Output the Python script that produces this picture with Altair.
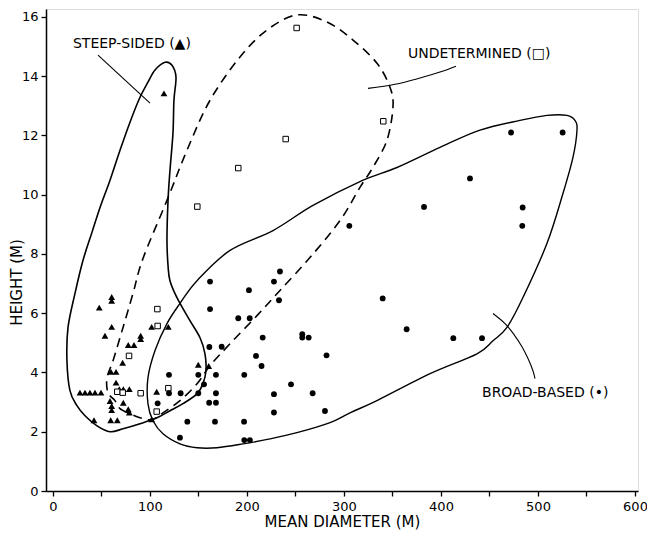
import altair as alt
import pandas as pd

# --- point data (mean diameter m, height m) ---
steep_x = [47.7, 60.5, 60.5, 53.6, 60.5, 77.6, 83.5, 90.4, 90.4, 101.7, 118.9, 71.8, 59.8, 65.0, 65.0,
           27.8, 33.0, 38.1, 43.3, 49.5, 68.4, 72.5, 78.7, 58.8, 60.5, 60.5, 72.5, 77.6, 78.7,
           42.3, 59.5, 66.3, 101.7, 106.9, 149.8, 160.5, 114.4]
steep_y = [6.19, 6.55, 6.42, 5.24, 5.54, 4.93, 4.93, 5.24, 5.13, 5.54, 5.54, 4.33, 4.02, 4.02, 3.66,
           3.32, 3.32, 3.32, 3.32, 3.32, 3.44, 3.44, 3.44, 3.04, 2.87, 2.73, 2.98, 2.76, 2.65,
           2.39, 2.39, 2.39, 2.42, 3.35, 4.26, 4.22, 13.42]

under_x = [107.6, 107.9, 78.4, 66.3, 71.9, 90.4, 106.9, 118.9, 251.2, 239.9, 191.0, 148.8, 340.5]
under_y = [6.14, 5.57, 4.56, 3.35, 3.32, 3.30, 2.68, 3.47, 15.63, 11.88, 10.90, 9.60, 12.48]

broad_x = [161.9, 161.9, 202.0, 227.8, 234.0, 233.0, 191.0, 202.8, 216.2, 257.0, 257.0, 263.6, 161.2,
           173.9, 209.3, 215.0, 282.0, 119.6, 149.8, 168.0, 197.2, 245.4, 155.7, 131.6, 119.6, 149.8,
           168.0, 227.8, 267.7, 107.9, 161.0, 168.0, 227.8, 280.4, 138.5, 167.0, 197.0, 130.9, 197.2,
           203.0, 472.2, 525.4, 429.9, 382.5, 484.2, 483.8, 305.5, 339.9, 364.6, 412.7, 442.3]
broad_y = [7.07, 6.14, 6.78, 7.07, 7.41, 6.44, 5.83, 5.83, 5.18, 5.29, 5.18, 5.18, 4.86,
           4.87, 4.56, 4.22, 4.58, 3.92, 3.92, 3.92, 3.92, 3.60, 3.60, 3.30, 3.30, 3.30,
           3.30, 3.27, 3.30, 2.96, 2.98, 2.98, 2.65, 2.70, 2.34, 2.34, 2.34, 1.80, 1.72,
           1.72, 12.10, 12.10, 10.55, 9.59, 9.57, 8.95, 8.95, 6.50, 5.46, 5.16, 5.16]

# --- hand-drawn enclosing outlines (data units) ---
steep_ox = [115.5, 122.7, 126.8, 124.7, 123.7, 120.6, 118.6, 117.5, 118.6, 120.6, 127.8, 141.2, 151.5,
            156.7, 157.7, 154.6, 148.5, 134.0, 120.6, 107.2, 89.7, 72.2, 58.8, 45.4, 33.0, 24.7, 17.5,
            14.4, 15.5, 22.7, 30.9, 40.2, 48.5, 58.8, 69.1, 79.4, 89.7, 97.9, 105.2]
steep_oy = [14.47, 14.37, 13.97, 13.19, 12.08, 10.82, 9.81, 8.46, 7.61, 7.10, 6.53, 5.75, 5.18,
            4.63, 4.06, 3.62, 3.28, 2.95, 2.71, 2.47, 2.27, 2.10, 2.00, 2.20, 2.54, 2.88, 3.39,
            4.40, 5.52, 6.67, 7.78, 8.73, 9.57, 10.49, 11.50, 12.45, 13.29, 13.80, 14.21]

broad_ox = [540.2, 536.1, 525.8, 509.3, 484.5, 468.0, 453.6, 437.1, 388.7, 334.0, 306.2, 285.6, 251.5,
            223.7, 195.9, 169.1, 148.5, 130.9, 113.4, 103.1, 97.9, 97.9, 105.2, 117.5, 130.9, 148.5,
            182.5, 226.8, 268.0, 318.6, 354.6, 399.0, 440.2, 481.4, 509.3, 529.9, 538.1]
broad_oy = [12.18, 11.27, 10.05, 8.36, 6.53, 5.52, 5.07, 4.63, 3.96, 3.05, 2.64, 2.31, 1.97,
            1.76, 1.59, 1.46, 1.46, 1.59, 1.93, 2.37, 2.95, 3.82, 4.74, 5.65, 6.33, 7.10,
            8.12, 8.79, 9.64, 10.48, 10.92, 11.60, 12.18, 12.51, 12.68, 12.68, 12.51]

under_ox = [63.9, 69.1, 79.4, 89.7, 102.1, 113.4, 130.9, 148.5, 161.9, 182.5, 210.3, 234.0, 264.9,
            295.9, 316.5, 329.9, 344.3, 350.5, 347.4, 334.0, 309.3, 282.5, 251.5, 220.6, 192.8,
            161.9, 138.1, 117.5, 92.8, 82.5, 72.2, 61.9, 55.7, 56.7]
under_oy = [3.05, 2.78, 2.61, 2.47, 2.41, 2.64, 3.05, 3.62, 4.23, 4.97, 5.92, 6.77, 7.88,
            9.13, 10.25, 10.93, 11.84, 12.96, 13.63, 14.44, 15.22, 15.83, 16.07, 15.56, 14.65,
            13.19, 11.50, 9.81, 7.85, 6.67, 5.52, 4.40, 3.82, 3.32]

# --- leader lines ---
lead_steep_x = [46.4, 100.0]
lead_steep_y = [14.71, 13.09]
lead_under_x = [324.7, 352.6, 378.4, 399.0, 415.5]
lead_under_y = [13.59, 13.73, 13.94, 14.14, 14.34]
lead_broad_x = [453.6, 466.0, 475.3, 483.5, 489.7, 494.8, 496.9]
lead_broad_y = [5.99, 5.65, 5.28, 4.87, 4.47, 4.06, 3.79]

label_text = ["STEEP-SIDED (▲)", "UNDETERMINED (□)", "BROAD-BASED (•)"]
label_x = [20.6, 366.0, 442.3]
label_y = [15.09, 14.75, 3.32]

FONT = "DejaVu Sans"
xscale = alt.Scale(domain=[-7.2, 603.1], nice=False, zero=False)
yscale = alt.Scale(domain=[0, 16.27], nice=False, zero=False)


def pts(xs, ys):
    return pd.DataFrame({"x": xs, "y": ys})


def path(xs, ys):
    return pd.DataFrame({"x": xs, "y": ys, "seq": list(range(len(xs)))})


xaxis = alt.Axis(values=list(range(0, 601, 50)),
                 labelExpr="datum.value % 100 == 0 ? datum.label : ''",
                 title="MEAN DIAMETER (M)", grid=False, tickSize=5, tickWidth=1.3,
                 tickColor="black", domainColor="black", domainWidth=1.5,
                 labelFont=FONT, labelFontSize=13, labelColor="black", labelPadding=4,
                 titleFont=FONT, titleFontSize=15, titleFontWeight="normal", titleColor="black",
                 titleY=30, titleBaseline="middle")
yaxis = alt.Axis(values=list(range(0, 17, 2)), title="HEIGHT (M)", grid=False, tickSize=5,
                 tickWidth=1.3, tickColor="black", domainColor="black", domainWidth=1.5,
                 labelFont=FONT, labelFontSize=13, labelColor="black", labelPadding=3,
                 titleFont=FONT, titleFontSize=15, titleFontWeight="normal", titleColor="black",
                 titleX=-30, titleY=273, titleBaseline="middle")

base_enc = dict(x=alt.X("x:Q", scale=xscale, axis=xaxis), y=alt.Y("y:Q", scale=yscale, axis=yaxis))

outline_steep = alt.Chart(path(steep_ox, steep_oy)).mark_line(
    interpolate="cardinal-closed", color="black", strokeWidth=1.6).encode(
    order="seq:Q", **base_enc)
outline_broad = alt.Chart(path(broad_ox, broad_oy)).mark_line(
    interpolate="cardinal-closed", color="black", strokeWidth=1.4).encode(
    order="seq:Q", **base_enc)
outline_under = alt.Chart(path(under_ox, under_oy)).mark_line(
    interpolate="cardinal-closed", color="black", strokeWidth=1.6, strokeDash=[9, 6]).encode(
    order="seq:Q", **base_enc)

leaders = [alt.Chart(path(lx, ly)).mark_line(interpolate="cardinal", color="black",
                                             strokeWidth=1.1).encode(order="seq:Q", **base_enc)
           for lx, ly in [(lead_steep_x, lead_steep_y), (lead_under_x, lead_under_y),
                          (lead_broad_x, lead_broad_y)]]

tri = alt.Chart(pts(steep_x, steep_y)).mark_point(
    shape="triangle-up", filled=True, color="black", size=46, opacity=1).encode(**base_enc)
sq = alt.Chart(pts(under_x, under_y)).mark_point(
    shape="square", filled=True, fill="white", stroke="black", strokeWidth=1, size=30,
    opacity=1).encode(**base_enc)
dots = alt.Chart(pts(broad_x, broad_y)).mark_point(
    shape="circle", filled=True, color="black", size=34, opacity=1).encode(**base_enc)

labels = alt.Chart(pd.DataFrame({"x": label_x, "y": label_y, "t": label_text})).mark_text(
    align="left", baseline="middle", font=FONT, fontSize=14, color="black").encode(
    text="t:N", **base_enc)

chart = alt.layer(outline_steep, outline_broad, outline_under, *leaders, tri, sq, dots, labels).properties(
    width=592, height=482,
    autosize=alt.AutoSizeParams(type="none"),
    padding={"left": 38, "top": 1, "right": 9, "bottom": 42},
).configure_view(stroke="black", strokeWidth=1.5, fill="white").configure(background="white")

chart.save("out.html", embed_options={"renderer": "svg", "actions": False})
